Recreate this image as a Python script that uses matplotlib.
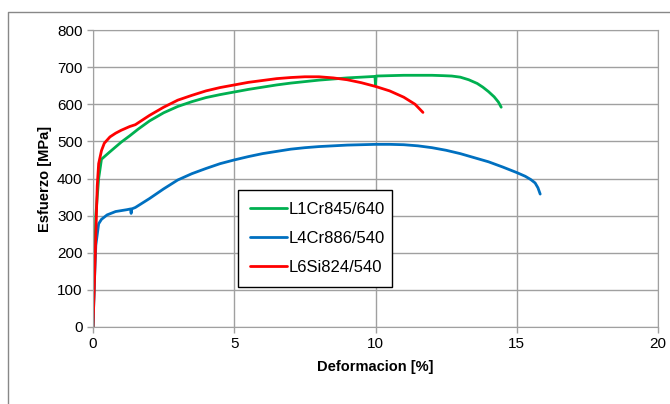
import matplotlib.pyplot as plt
from matplotlib.lines import Line2D

# Curvas esfuerzo-deformacion
def_l1 = [0, 0.05, 0.1, 0.2, 0.3, 0.6, 1.0, 1.3, 1.6, 2.0, 2.5, 3.0, 3.5, 4.0, 4.5, 5.0, 5.5, 6.0, 6.5, 7.0, 7.5, 8.0, 8.5, 9.0, 9.5,
          9.98, 10.0, 10.02, 10.5, 11.0, 11.5, 12.0, 12.4, 12.7, 13.0, 13.3, 13.6, 13.8, 14.0, 14.2, 14.35, 14.45]
esf_l1 = [0, 150, 300, 400, 452, 472, 498, 515, 533, 555, 577, 594, 607, 618, 626, 633, 640, 646, 652, 657, 661, 665, 668, 671, 673,
          675, 652, 676, 677, 678, 678, 678, 677, 676, 673, 666, 656, 646, 634, 620, 606, 592]

def_l4 = [0, 0.05, 0.1, 0.2, 0.3, 0.5, 0.8, 1.2, 1.33, 1.35, 1.37, 1.5, 2.0, 2.5, 3.0, 3.5, 4.0, 4.5, 5.0, 5.5, 6.0, 6.5, 7.0, 7.5,
          8.0, 8.5, 9.0, 9.5, 10.0, 10.5, 11.0, 11.5, 12.0, 12.5, 13.0, 13.5, 14.0, 14.5, 15.0, 15.3, 15.5, 15.65, 15.75, 15.83]
esf_l4 = [0, 120, 220, 278, 290, 302, 311, 316, 318, 306, 318, 322, 346, 372, 396, 413, 427, 440, 450, 459, 467, 473, 479, 483,
          486, 488, 490, 491, 492, 492, 491, 488, 483, 476, 467, 456, 445, 431, 416, 406, 397, 388, 375, 358]

def_l6 = [0, 0.05, 0.1, 0.15, 0.2, 0.3, 0.4, 0.6, 0.8, 1.0, 1.3, 1.5, 2.0, 2.5, 3.0, 3.5, 4.0, 4.5, 5.0, 5.5, 6.0, 6.5, 7.0, 7.5,
          8.0, 8.5, 9.0, 9.5, 10.0, 10.5, 11.0, 11.4, 11.68]
esf_l6 = [0, 120, 250, 380, 440, 475, 495, 512, 522, 530, 540, 545, 570, 592, 611, 624, 636, 645, 652, 659, 664, 669, 672, 674,
          674, 671, 666, 658, 648, 636, 619, 600, 578]

series = [
    ('L1Cr845/640', def_l1, esf_l1, '#00b050'),
    ('L4Cr886/540', def_l4, esf_l4, '#0070c0'),
    ('L6Si824/540', def_l6, esf_l6, '#ff0000'),
]

plt.rcParams['font.family'] = ['Liberation Sans', 'DejaVu Sans']

fig = plt.figure(figsize=(6.7, 4.04), dpi=100)
ax = fig.add_axes([93/670, 1 - 327/404, 565/670, 297/404])

for nombre, x, y, c in series:
    ax.plot(x, y, color=c, lw=2.0, label=nombre, solid_capstyle='round', solid_joinstyle='round')

ax.set_xlim(0, 20)
ax.set_ylim(0, 800)
ax.set_xticks([0, 5, 10, 15, 20])
ax.set_yticks(range(0, 801, 100))
ax.grid(True, color='#a0a0a0', lw=1.0)
ax.set_axisbelow(True)
for s in ax.spines.values():
    s.set_color('#a0a0a0')
ax.tick_params(colors='#a0a0a0', labelcolor='black', labelsize=11, length=4, width=1)

ax.set_xlabel('Deformacion [%]', fontsize=10.5, fontweight='bold', labelpad=6)
ax.set_ylabel('Esfuerzo [MPa]', fontsize=10.5, fontweight='bold', labelpad=4)

leg = ax.legend(loc='lower left', bbox_to_anchor=(0.257, 0.135, 0.273, 0.35), mode='expand',
                borderaxespad=0, fontsize=12, fancybox=False, framealpha=1, edgecolor='black',
                handlelength=2.2, labelspacing=0.85, borderpad=0.7, handletextpad=0.15)
leg.get_frame().set_linewidth(1.0)

# marco exterior del grafico
fig.add_artist(Line2D([8/670, 8/670, 1.0], [0.0, 1 - 12/404, 1 - 12/404],
                      transform=fig.transFigure, color='#888888', lw=1.0))

fig.savefig('out.png', dpi=100)
